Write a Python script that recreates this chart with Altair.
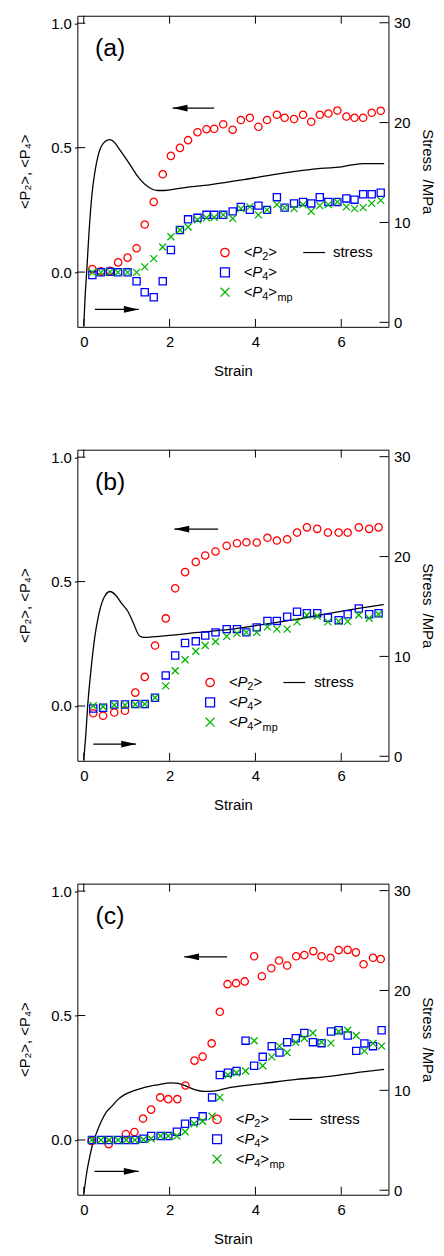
import altair as alt
import pandas as pd

# ---------------- panel (a) ----------------
strain_a = [0.20, 0.40, 0.61, 0.80, 1.02, 1.23, 1.42, 1.63, 1.84, 2.03, 2.24, 2.43, 2.65, 2.86, 3.04, 3.25, 3.47,
            3.66, 3.87, 4.07, 4.27, 4.50, 4.68, 4.90, 5.11, 5.30, 5.50, 5.70, 5.91, 6.12, 6.31, 6.51, 6.71, 6.92]
p2_a = [0.012, 0.003, 0.005, 0.039, 0.058, 0.096, 0.191, 0.282, 0.393, 0.467, 0.499, 0.530, 0.562, 0.574, 0.576,
        0.594, 0.572, 0.611, 0.620, 0.584, 0.611, 0.632, 0.620, 0.615, 0.632, 0.604, 0.632, 0.637, 0.649, 0.625,
        0.620, 0.620, 0.640, 0.648]
p4_a = [-0.012, -0.001, 0.001, -0.001, -0.001, -0.037, -0.081, -0.101, -0.037, 0.089, 0.169, 0.212, 0.218, 0.230,
        0.230, 0.230, 0.244, 0.262, 0.250, 0.267, 0.250, 0.301, 0.259, 0.276, 0.282, 0.276, 0.301, 0.282, 0.282,
        0.296, 0.291, 0.313, 0.313, 0.319]
p4mp_a = [-0.001, -0.001, 0.001, -0.001, -0.001, -0.001, 0.021, 0.054, 0.101, 0.142, 0.169, 0.181, 0.210, 0.218,
          0.220, 0.230, 0.215, 0.255, 0.262, 0.230, 0.250, 0.271, 0.259, 0.255, 0.271, 0.244, 0.267, 0.271, 0.282,
          0.262, 0.255, 0.259, 0.276, 0.288]
stress_strain_a = [0.0, 0.03, 0.07, 0.11, 0.19, 0.26, 0.34, 0.45, 0.61, 0.72, 0.82, 1.03, 1.26, 1.49, 1.72, 1.88,
                   2.19, 2.96, 3.73, 4.50, 5.27, 6.04, 6.50, 7.00]
stress_a = [-0.4, 2.5, 5.2, 8.2, 12.8, 15.1, 16.8, 17.9, 18.3, 18.0, 17.4, 16.1, 14.6, 13.6, 13.2, 13.2, 13.4, 13.8,
            14.3, 14.85, 15.3, 15.6, 15.9, 15.9]

# ---------------- panel (b) ----------------
strain_b = [0.22, 0.45, 0.71, 0.96, 1.20, 1.42, 1.66, 1.91, 2.13, 2.36, 2.61, 2.83, 3.07, 3.33, 3.57, 3.79, 4.03,
            4.28, 4.50, 4.74, 4.97, 5.20, 5.44, 5.69, 5.94, 6.15, 6.41, 6.65, 6.87]
p2_b = [-0.029, -0.039, -0.026, -0.019, 0.054, 0.117, 0.243, 0.352, 0.473, 0.538, 0.579, 0.605, 0.621, 0.644, 0.654,
        0.658, 0.657, 0.676, 0.665, 0.670, 0.697, 0.718, 0.712, 0.697, 0.697, 0.697, 0.718, 0.712, 0.718]
p4_b = [-0.010, -0.007, 0.006, 0.006, 0.008, 0.008, 0.033, 0.123, 0.203, 0.253, 0.260, 0.283, 0.296, 0.309, 0.309,
        0.296, 0.316, 0.342, 0.342, 0.359, 0.379, 0.373, 0.373, 0.355, 0.345, 0.369, 0.392, 0.369, 0.373]
p4mp_b = [0.001, -0.003, 0.004, 0.004, 0.006, 0.008, 0.033, 0.081, 0.142, 0.186, 0.220, 0.243, 0.259, 0.280, 0.292,
          0.296, 0.296, 0.318, 0.309, 0.309, 0.338, 0.366, 0.362, 0.338, 0.340, 0.340, 0.366, 0.353, 0.369]
stress_strain_b = [0.0, 0.046, 0.09, 0.17, 0.26, 0.34, 0.45, 0.61, 0.75, 0.88, 1.03, 1.15, 1.30, 1.42, 1.60, 2.00,
                   2.65, 3.40, 4.03, 4.50, 4.95, 5.72, 6.40, 6.99]
stress_b = [-0.4, 2.1, 5.0, 8.75, 12.05, 14.0, 15.7, 16.5, 16.1, 15.3, 14.5, 13.4, 12.05, 11.9, 11.95, 12.1, 12.4,
            12.7, 13.1, 13.4, 13.7, 14.3, 14.8, 15.2]

# ---------------- panel (c) ----------------
strain_c_p2 = [0.18, 0.58, 0.98, 1.18, 1.38, 1.57, 1.78, 1.97, 2.18, 2.37, 2.58, 2.77, 2.98, 3.17, 3.35, 3.55,
               3.75, 3.97, 4.15, 4.37, 4.55, 4.74, 4.95, 5.14, 5.35, 5.54, 5.75, 5.94, 6.15, 6.34, 6.52, 6.74, 6.92]
p2_c = [-0.004, -0.017, 0.024, 0.032, 0.086, 0.122, 0.171, 0.164, 0.164, 0.219, 0.319, 0.335, 0.388, 0.515, 0.626,
        0.630, 0.637, 0.738, 0.658, 0.690, 0.721, 0.701, 0.738, 0.743, 0.759, 0.738, 0.732, 0.763, 0.764, 0.754,
        0.706, 0.732, 0.727]
strain_c = [0.19, 0.40, 0.59, 0.80, 0.99, 1.19, 1.39, 1.57, 1.79, 1.97, 2.17, 2.36, 2.57, 2.77, 2.99, 3.17, 3.36,
            3.56, 3.77, 3.97, 4.17, 4.38, 4.56, 4.74, 4.94, 5.14, 5.34, 5.54, 5.76, 5.94, 6.15, 6.35, 6.54, 6.74, 6.94]
p4_c = [0.0, 0.0, 0.0, 0.0, 0.0, 0.0, 0.005, 0.016, 0.016, 0.016, 0.033, 0.065, 0.075, 0.095, 0.171, 0.261, 0.270,
        0.277, 0.399, 0.298, 0.334, 0.377, 0.351, 0.393, 0.409, 0.430, 0.393, 0.389, 0.436, 0.441, 0.420, 0.358,
        0.388, 0.377, 0.441]
p4mp_c = [0.0, 0.0, 0.0, 0.0, 0.0, 0.0, 0.002, 0.005, 0.016, 0.016, 0.016, 0.033, 0.065, 0.075, 0.095, 0.171, 0.261,
          0.270, 0.277, 0.399, 0.298, 0.334, 0.377, 0.351, 0.393, 0.409, 0.430, 0.393, 0.389, 0.436, 0.441, 0.420,
          0.358, 0.388, 0.377]
stress_strain_c = [0.0, 0.07, 0.15, 0.22, 0.32, 0.42, 0.52, 0.65, 0.80, 0.96, 1.19, 1.42, 1.72, 2.03, 2.20, 2.40,
                   2.60, 2.80, 2.96, 3.42, 4.19, 4.96, 5.73, 6.50, 7.00]
stress_c = [-0.4, 1.8, 3.6, 4.8, 6.0, 7.0, 7.8, 8.4, 9.1, 9.6, 10.0, 10.3, 10.55, 10.75, 10.7, 10.4, 10.05, 9.9,
            9.9, 10.3, 10.7, 11.1, 11.4, 11.85, 12.1]

# arrows: tail strain, tip strain, level (left axis units)  [upper -> left axis, lower -> right axis]
arrow_tail_a, arrow_tip_a, arrow_y_a = [3.04, 0.26], [2.07, 1.28], [0.659, -0.150]
arrow_tail_b, arrow_tip_b, arrow_y_b = [3.13, 0.22], [2.11, 1.22], [0.711, -0.153]
arrow_tail_c, arrow_tip_c, arrow_y_c = [3.34, 0.25], [2.34, 1.28], [0.736, -0.126]

panel_tags = ["(a)", "(b)", "(c)"]
x_tick_vals = [0, 2, 4, 6]
left_tick_vals = [0.0, 0.5, 1.0]
stress_tick_vals = [0, 10, 20, 30]
series_names = ["P2", "P4", "P4mp"]

# ---------------- styling ----------------
FONT = "Liberation Sans"
W, H = 314, 314
COLORS = ["#ff0000", "#0000ff", "#00b400"]
CROSS = "M-1,-1L1,1M-1,1L1,-1"
SHAPES = ["circle", "square", CROSS]
SIZES = [55, 50, 50]
HEAD_L = "M0,0L2,-0.45L2,0.45Z"
HEAD_R = "M0,0L-2,-0.45L-2,0.45Z"

XS = alt.Scale(domain=[-0.15, 7.1], nice=False, zero=False)
LS = alt.Scale(domain=[-0.22, 1.03], nice=False, zero=False)
SS = alt.Scale(domain=[-0.45, 30.7], nice=False, zero=False)

XAXIS = alt.Axis(values=x_tick_vals, format="d", ticks=False, labelPadding=8, title="Strain",
                 titlePadding=14, grid=False, domain=False)
LAXIS = alt.Axis(orient="left", values=left_tick_vals, format=".1f", tickSize=3, labelPadding=3,
                 title="<P₂>, <P₄>", titlePadding=18, grid=False, domain=False)
RAXIS = alt.Axis(orient="right", values=stress_tick_vals, format="d", ticks=False, labelPadding=5,
                 title="Stress\u00a0\u00a0/MPa", titlePadding=10, grid=False, domain=False)

ONE = pd.DataFrame({"k": [0]})


def txt(s, x, y, size=15, style="normal", dy=0, align="left"):
    return alt.Chart(ONE).mark_text(text=s, font=FONT, fontSize=size, fontStyle=style, align=align,
                                    baseline="middle", dy=dy, color="black").encode(
        x=alt.value(x), y=alt.value(y))


def pvar(x, y, sub, extra=None):
    # "<P_sub>" with italic P, optional trailing subscript
    parts = [txt("<", x, y), txt("P", x + 8.6, y, style="italic"),
             txt(sub, x + 18.6, y, size=11, dy=5), txt(">", x + 24.8, y)]
    if extra:
        parts.append(txt(extra, x + 34.0, y, size=11, dy=6))
    return parts


def legend(sym_x, row_y, text_x, line_x0, line_x1, stress_x):
    layers = []
    for i, (shape, col, size) in enumerate(zip(SHAPES, COLORS, [72, 81, 81])):
        layers.append(alt.Chart(ONE).mark_point(shape=shape, color=col, filled=False, size=size,
                                                strokeWidth=1.3, opacity=1).encode(
            x=alt.value(sym_x), y=alt.value(row_y + 20 * i)))
    layers += pvar(text_x, row_y, "2")
    layers += pvar(text_x, row_y + 20, "4")
    layers += pvar(text_x, row_y + 40, "4", extra="mp")
    layers.append(alt.Chart(ONE).mark_rule(color="black", strokeWidth=1.2).encode(
        x=alt.value(line_x0), x2=alt.value(line_x1), y=alt.value(row_y)))
    layers.append(txt("stress", stress_x, row_y))
    return layers


def panel(tag, s2, p2, s4, p4, s4mp, p4mp, ss, st, tails, tips, ays, leg):
    rows = []
    for name, xs, ys in zip(series_names, (s2, s4, s4mp), (p2, p4, p4mp)):
        rows += [{"series": name, "strain": a, "value": b} for a, b in zip(xs, ys)]
    pts = pd.DataFrame(rows)

    stress = alt.Chart(pd.DataFrame({"strain": ss, "stress": st})).mark_line(
        color="black", strokeWidth=1.3, interpolate="monotone", clip=True).encode(
        x=alt.X("strain:Q", scale=XS, axis=XAXIS),
        y=alt.Y("stress:Q", scale=SS, axis=RAXIS))

    points = alt.Chart(pts).mark_point(filled=False, strokeWidth=1.3, opacity=1).encode(
        x=alt.X("strain:Q", scale=XS, axis=XAXIS),
        y=alt.Y("value:Q", scale=LS, axis=LAXIS),
        color=alt.Color("series:N", scale=alt.Scale(domain=series_names, range=COLORS), legend=None),
        shape=alt.Shape("series:N", scale=alt.Scale(domain=series_names, range=SHAPES), legend=None),
        size=alt.Size("series:O", scale=alt.Scale(domain=series_names, range=SIZES), legend=None))

    adf = pd.DataFrame({"x0": tails, "x1": tips, "y": ays})
    shaft = alt.Chart(adf).mark_rule(color="black", strokeWidth=1.3).encode(
        x=alt.X("x0:Q", scale=XS, axis=XAXIS), x2="x1:Q",
        y=alt.Y("y:Q", scale=LS, axis=None))
    heads = []
    for i, path in enumerate([HEAD_L, HEAD_R]):
        heads.append(alt.Chart(adf.iloc[[i]]).mark_point(shape=path, filled=True, color="black", size=225,
                                                         opacity=1, strokeWidth=0).encode(
            x=alt.X("x1:Q", scale=XS, axis=XAXIS),
            y=alt.Y("y:Q", scale=LS, axis=None)))

    xt = pd.DataFrame({"t": x_tick_vals})
    xt_bot = alt.Chart(xt).mark_rule(color="black").encode(
        x=alt.X("t:Q", scale=XS, axis=XAXIS), y=alt.value(H), y2=alt.value(H - 8))
    xt_top = alt.Chart(xt).mark_rule(color="black").encode(
        x=alt.X("t:Q", scale=XS, axis=XAXIS), y=alt.value(0), y2=alt.value(8))
    lt = alt.Chart(pd.DataFrame({"t": left_tick_vals})).mark_rule(color="black").encode(
        y=alt.Y("t:Q", scale=LS, axis=None), x=alt.value(0), x2=alt.value(8))
    rt = alt.Chart(pd.DataFrame({"t": stress_tick_vals})).mark_rule(color="black").encode(
        y=alt.Y("t:Q", scale=SS, axis=None), x=alt.value(W), x2=alt.value(W - 9))

    label = alt.Chart(ONE).mark_text(text=tag, font=FONT, fontSize=25, align="center", baseline="middle",
                                     color="black").encode(x=alt.value(33), y=alt.value(33))

    layers = [stress, points, shaft] + heads + [xt_bot, xt_top, lt, rt, label] + legend(*leg)
    return alt.layer(*layers).resolve_scale(y="independent").properties(width=W, height=H)


pa = panel(panel_tags[0], strain_a, p2_a, strain_a, p4_a, strain_a, p4mp_a, stress_strain_a, stress_a,
           arrow_tail_a, arrow_tip_a, arrow_y_a, (149, 239, 168, 228, 250, 258))
pb = panel(panel_tags[1], strain_b, p2_b, strain_b, p4_b, strain_b, p4mp_b, stress_strain_b, stress_b,
           arrow_tail_b, arrow_tip_b, arrow_y_b, (134, 235, 153, 208, 230, 239))
pc = panel(panel_tags[2], strain_c_p2, p2_c, strain_c, p4_c, strain_c, p4mp_c, stress_strain_c, stress_c,
           arrow_tail_c, arrow_tip_c, arrow_y_c, (141, 238, 160, 214, 237, 245))

chart = alt.vconcat(pa, pb, pc, spacing=70).properties(
    padding={"left": 9, "top": 1, "right": 0, "bottom": 0}
).configure_view(stroke="black", strokeWidth=1).configure_axis(
    labelFont=FONT, titleFont=FONT, labelFontSize=15, titleFontSize=15, labelColor="black",
    titleColor="black", titleFontWeight="normal", tickColor="black", domainColor="black"
)

chart.save("out.html", embed_options={"renderer": "svg", "actions": False})
